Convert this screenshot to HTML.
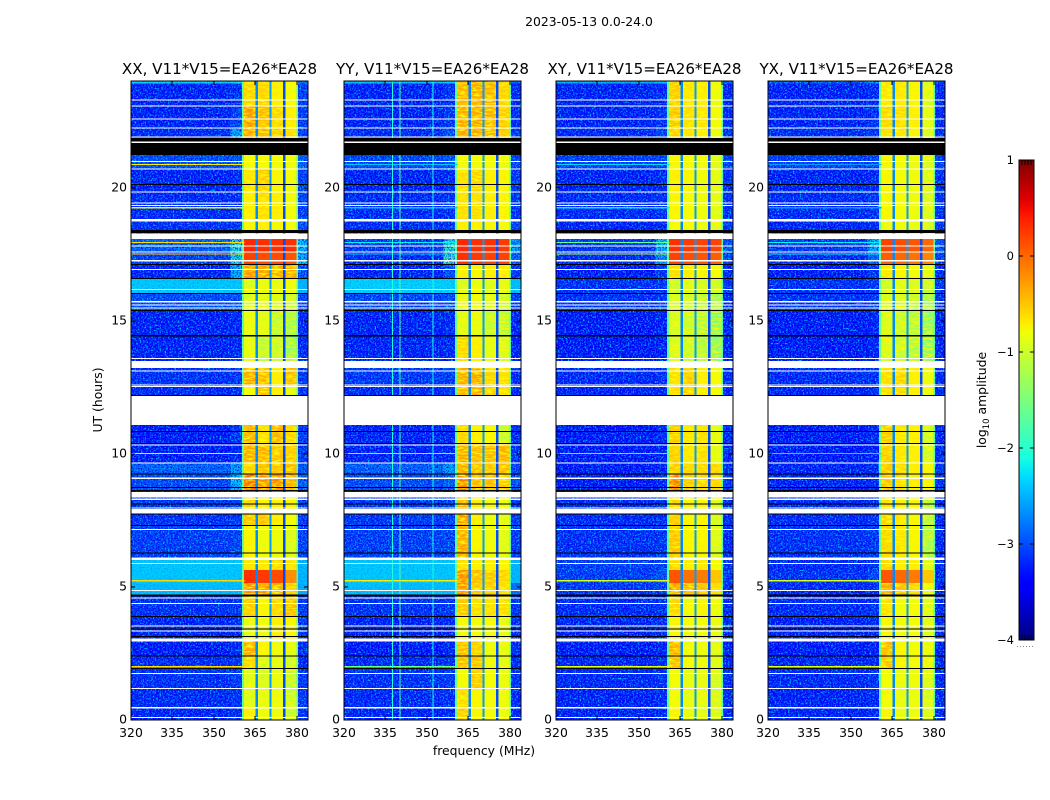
<!DOCTYPE html>
<html>
<head>
<meta charset="utf-8">
<title>2023-05-13 dynamic spectra</title>
<style>
html,body{margin:0;padding:0;background:#fff;}
svg{display:block;}
text{font-family:"DejaVu Sans","Liberation Sans",sans-serif;fill:#000;}
</style>
</head>
<body>
<svg id="chart" xmlns="http://www.w3.org/2000/svg" width="1050" height="800" viewBox="0 0 1050 800">
<defs>
<filter id="speckle" x="0" y="0" width="100%" height="100%">
<feTurbulence type="fractalNoise" baseFrequency="0.6" numOctaves="2" seed="4"/>
<feColorMatrix type="matrix" values="0 0 0 0 0  0 0 0 0 0.6  0 0 0 0 1  3.5 0 0 0 -1.6"/>
</filter>
<filter id="speckle-dark" x="0" y="0" width="100%" height="100%">
<feTurbulence type="fractalNoise" baseFrequency="0.7" numOctaves="2" seed="11"/>
<feColorMatrix type="matrix" values="0 0 0 0 0  0 0 0 0 0  0 0 0 0 0.8  0 3 0 0 -1.3"/>
</filter>
<filter id="speckle-band" x="0" y="0" width="100%" height="100%">
<feTurbulence type="fractalNoise" baseFrequency="0.15 0.6" numOctaves="2" seed="7"/>
<feColorMatrix type="matrix" values="0 0 0 0 1  0 0 0 0 0.95  0 0 0 0 0  3 0 0 0 -1.2"/>
</filter>
<linearGradient id="jet-gradient" x1="0" y1="1" x2="0" y2="0"></linearGradient>
</defs>
<text x="589" y="26" text-anchor="middle" font-size="12.4">2023-05-13 0.0-24.0</text>
<g id="panels"></g>
<text x="0" y="0" text-anchor="middle" font-size="12.4" transform="translate(102,400) rotate(-90)">UT (hours)</text>
<text x="484" y="755" text-anchor="middle" font-size="12.4">frequency (MHz)</text>
<g id="colorbar"></g>
<text x="0" y="0" text-anchor="middle" font-size="12.4" transform="translate(986,400) rotate(-90)">log<tspan font-size="8.5" dy="3">10</tspan><tspan dy="-3"> amplitude</tspan></text>
</svg>
<script>
// Axis categories and ticks
const panelTitles = ["XX, V11*V15=EA26*EA28", "YY, V11*V15=EA26*EA28", "XY, V11*V15=EA26*EA28", "YX, V11*V15=EA26*EA28"];
const freqTicks = [320, 335, 350, 365, 380];
const hourTicks = [0, 5, 10, 15, 20];
const colorTicks = [-4, -3, -2, -1, 0, 1];

// Frequency columns in MHz: background, roll-off, channels A-D, right edge
const freqColumns = [[320, 356], [356, 360.6], [360.6, 365.1], [366, 370], [370.8, 375], [375.8, 380], [380, 384]];
// Band edges and channel gaps in MHz, with their log amplitude
const gapColumns = [[360.2, 360.8], [379.8, 380.4], [365.1, 366], [370, 370.8], [375, 375.8]];
const gapLevels = [-1.7, -1.7, -2.7, -2.6, -3.0];

// Time segment edges in hours (descending)
const hourEdges = [24, 23.9, 23.05, 22.2, 21.22, 20.7, 19.8, 18.8, 18.06, 17.58, 17.1, 16.59, 16.02, 15.38, 14.43, 13.22, 12.58, 11.08, 10.39, 9.66, 9.24, 8.6, 7.73, 7.31, 6.01, 5.63, 5.14, 4.63, 3.88, 3, 2.41, 1.94, 1.19, 0.46, 0];

// log10 amplitude per time segment per frequency column
const xxValues = [
[-2.3,-2.2,-.6,-.6,-.7,-.8,-2.6],[-3.05,-2.95,-.55,-.55,-.7,-.8,-2.85],[-3.05,-2.85,-.25,-.4,-.55,-.7,-2.85],[-3,-2.4,-.3,-.35,-.5,-.6,-2.8],
[-2.75,-2.7,-.8,-.8,-.8,-.85,-2.6],[-3.05,-3,-.65,-.5,-.75,-.85,-2.8],[-3,-2.95,-.7,-.6,-.7,-.85,-2.8],[-2.95,-2.9,-.75,-.7,-.75,-.85,-2.75],
[-2.6,-2,.35,.3,.3,.3,-2.3],[-2.85,-2.1,.2,.15,.15,.1,-2.4],[-3.05,-2.4,-.2,-.25,-.3,-.3,-2.7],[-2.35,-2.35,-1,-.9,-.9,-.85,-2.45],
[-2.75,-2.7,-1,-.95,-1,-1.1,-2.8],[-3.05,-3,-.9,-.95,-1.15,-1.3,-3],[-3.05,-3,-.9,-1.15,-1.1,-1.45,-3],[-2.95,-2.9,-.3,-.4,-.7,-.4,-2.9],
[-3,-2.95,-.8,-.45,-.7,-.9,-2.9],[-3.1,-2.9,-.35,-.6,-.35,-.55,-2.9],[-3.1,-3,-.3,-.35,-.45,-.5,-2.9],[-2.6,-2.5,-.55,-.4,-.45,-.4,-2.7],
[-2.75,-2.3,0,-.2,-.15,-.35,-2.6],[-2.9,-2.8,-.55,-.7,-.7,-.75,-2.8],[-2.95,-2.9,-.45,-.45,-.7,-.8,-2.85],[-2.85,-2.8,-.75,-.85,-.85,-1,-2.8],
[-2.35,-2.35,-.65,-.65,-.55,-.65,-2.45],[-2.35,-2.35,.3,.25,.15,-.2,-2.45],[-2.4,-2.4,-.2,-.2,-.35,-.5,-2.5],[-2.95,-2.9,-.5,-.75,-.55,-.4,-2.9],
[-3.05,-3,-.9,-.85,-.7,-.75,-2.9],[-3.1,-3,-.3,-.75,-.85,-.95,-3],[-3,-2.95,-.55,-.95,-.9,-1.05,-3],[-2.95,-2.9,-.95,-1,-.9,-1.2,-2.9],
[-3,-2.95,-.95,-.9,-.85,-1.1,-2.9],[-3.05,-3,-.7,-.85,-.85,-1.1,-2.9]];
const yyValues = [
[-2.4,-2.3,-.4,-.35,-.4,-.6,-2.7],[-3.05,-2.95,-.35,-.3,-.35,-.55,-3],[-3.05,-2.9,-.3,-.3,-.35,-.5,-3],[-3,-2.7,-.3,-.3,-.35,-.5,-2.9],
[-2.8,-2.7,-.8,-.8,-.8,-.85,-2.8],[-3.05,-3,-.6,-.55,-.7,-.75,-2.9],[-3,-2.95,-.6,-.6,-.7,-.75,-2.9],[-3,-2.9,-.7,-.7,-.75,-.8,-2.8],
[-2.9,-1.9,.35,.3,.3,.25,-2.5],[-3,-1.8,.3,.25,.2,.2,-2.6],[-3.05,-2.7,-.7,-.75,-.7,-.7,-2.9],[-2.3,-2.3,-1,-.85,-1,-.9,-2.4],
[-2.8,-2.75,-.9,-.85,-.95,-1.1,-2.9],[-3.05,-3,-.95,-.9,-1.15,-1.25,-3.05],[-3.05,-3,-.55,-.7,-.9,-1,-3.05],[-2.9,-2.85,-.3,-.25,-.55,-.6,-3],
[-3,-2.95,-.4,-.3,-.5,-.6,-3],[-3.05,-3,-.55,-.7,-.75,-1.1,-3],[-3.05,-3,-.3,-.4,-.4,-.35,-2.95],[-2.6,-2.5,-.3,-.4,-.45,-.4,-2.8],
[-2.75,-2.6,-.1,-.4,-.4,-.5,-2.7],[-2.9,-2.85,-.35,-.7,-.8,-.85,-2.9],[-2.9,-2.85,-.2,-.7,-.85,-.9,-2.9],[-2.85,-2.8,-.3,-.75,-.85,-.95,-2.9],
[-2.35,-2.35,-.6,-.7,-.7,-.75,-2.45],[-2.35,-2.35,-.15,-.4,-.45,-.55,-2.45],[-2.4,-2.4,-.2,-.45,-.5,-.6,-2.6],[-2.95,-2.9,-.45,-.6,-.6,-.6,-2.95],
[-3.05,-3,-.8,-.8,-.8,-.9,-3],[-3.1,-3,-.4,-.5,-.85,-.9,-3],[-3,-2.95,-.4,-.45,-.85,-.9,-3],[-2.95,-2.9,-.8,-.45,-.8,-.9,-2.95],
[-3,-2.95,-.6,-.75,-.8,-.85,-3],[-3.05,-3,-.5,-.75,-.8,-.85,-3]];
const xyValues = [
[-2.5,-2.4,-.5,-.65,-.7,-.85,-2.7],[-3.05,-3,-.5,-.65,-.7,-.85,-3],[-3.05,-2.95,-.45,-.6,-.65,-.8,-3],[-3,-2.8,-.5,-.65,-.7,-.85,-2.95],
[-2.85,-2.8,-.75,-.8,-.85,-.95,-2.85],[-3.05,-3,-.7,-.75,-.85,-.95,-2.95],[-3,-2.95,-.75,-.8,-.85,-.95,-2.95],[-3.05,-3,-.8,-.8,-.85,-.95,-2.9],
[-2.9,-2.3,.3,.25,.2,.2,-2.7],[-3,-2.5,.2,.15,.1,.05,-2.8],[-3.1,-2.9,-.6,-.7,-.75,-.8,-3],[-2.95,-2.9,-1.1,-.95,-1.05,-1.1,-2.9],
[-2.95,-2.9,-1,-1.05,-1.2,-1.4,-3],[-3.1,-3.05,-1,-1.1,-1.25,-1.5,-3.05],[-3.1,-3.05,-1,-1.1,-1.25,-1.5,-3.05],[-3,-2.95,-.6,-.5,-.7,-.8,-3],
[-3.05,-3,-.6,-.5,-.7,-.8,-3],[-3.1,-3,-.5,-.65,-.6,-.9,-3],[-3.1,-3.05,-.5,-.65,-.6,-.9,-3],[-3.1,-3.05,-.5,-.55,-.55,-.55,-2.95],
[-3.1,-3,-.1,-.5,-.55,-.55,-2.9],[-3,-2.95,-.55,-.75,-.75,-1,-3],[-3,-2.95,-.5,-.75,-.75,-1,-3],[-2.95,-2.9,-.45,-.75,-.75,-1,-3],
[-2.85,-2.85,-.55,-.7,-.65,-.8,-2.9],[-2.85,-2.7,.1,-.05,-.1,-.5,-2.9],[-2.9,-2.85,-.25,-.35,-.4,-.6,-2.95],[-3,-2.95,-.55,-.8,-.75,-.85,-3],
[-3.05,-3,-.75,-.8,-.8,-.9,-3],[-3.1,-3.05,-.35,-.8,-.85,-.95,-3.05],[-3.05,-3,-.4,-.8,-.85,-.95,-3],[-3,-2.95,-.8,-.9,-.9,-1.05,-3],
[-3.05,-3,-.8,-.9,-.9,-1.05,-3],[-3.05,-3,-.75,-.9,-.9,-1.05,-3]];
const yxValues = [
[-2.6,-2.5,-.65,-.65,-.75,-.95,-2.8],[-3.05,-3,-.65,-.65,-.75,-.95,-3],[-3.05,-2.95,-.55,-.6,-.7,-.9,-3],[-3,-2.9,-.6,-.65,-.75,-.95,-2.95],
[-2.85,-2.8,-.75,-.8,-.85,-1,-2.85],[-3.05,-3,-.75,-.8,-.85,-1,-2.95],[-3,-2.95,-.75,-.8,-.85,-1,-2.95],[-3.05,-3,-.85,-.85,-.9,-1,-2.9],
[-2.9,-2.4,.2,.15,.1,0,-2.7],[-3,-2.6,.05,0,-.05,-.15,-2.8],[-3.1,-2.9,-.65,-.75,-.8,-.9,-3],[-2.95,-2.9,-1.1,-.95,-1,-1.1,-2.9],
[-2.95,-2.9,-1,-1.05,-1.2,-1.4,-3],[-3.1,-3.05,-1,-1.1,-1.25,-1.45,-3.05],[-3.1,-3.05,-1,-1.1,-1.25,-1.45,-3.05],[-3,-2.95,-.6,-.55,-.7,-.85,-3],
[-3.05,-3,-.6,-.55,-.7,-.85,-3],[-3.1,-3,-.5,-.65,-.7,-1.05,-3],[-3.1,-3.05,-.5,-.65,-.7,-1.05,-3],[-3.05,-3,-.5,-.6,-.7,-.75,-2.95],
[-3.05,-3,-.45,-.6,-.7,-.75,-2.9],[-3,-2.95,-.6,-.7,-.75,-1.2,-3],[-3,-2.95,-.55,-.65,-.75,-1.2,-3],[-2.95,-2.9,-.55,-.65,-.75,-1.3,-3],
[-3,-2.95,-.55,-.7,-.7,-.95,-3],[-2.95,-2.8,.1,0,-.1,-.5,-3],[-3,-2.95,-.3,-.45,-.55,-.8,-3],[-3,-2.95,-.6,-.8,-.8,-.95,-3],
[-3.05,-3,-.75,-.8,-.8,-.95,-3],[-3.1,-3.05,-.4,-.75,-.8,-.85,-3.05],[-3.05,-3,-.45,-.75,-.8,-.85,-3],[-3,-2.95,-.8,-.9,-.85,-1,-3],
[-3.05,-3,-.8,-.9,-.85,-1,-3],[-3.05,-3,-.75,-.9,-.85,-1,-3]];
const panelValues = [xxValues, yyValues, xyValues, yxValues];

// Narrow-band interference rows: hour, log amplitude per panel
const rfiHours = [20.87, 19.24, 17.94, 17.5, 10.01, 5.23, 2];
const rfiXX = [-.7, -.8, -.6, -.5, -1, -.6, -.6];
const rfiYY = [-2.4, -2.4, -2.2, -2.4, -1.6, -.7, -1.6];
const rfiXY = [-2.3, -2.2, -1.6, -1.2, -2, -.9, -.9];
const rfiYX = [-2.6, -2.6, -2.2, -2.2, -2.3, -.9, -.9];
const panelRfi = [rfiXX, rfiYY, rfiXY, rfiYX];

// Narrow vertical spikes in frequency (MHz) with log amplitude for the YY panel
const spikeFreqs = [337.4, 340, 352];
const spikeLevels = [-2.1, -1.8, -2.1];

// No-data (white) and zero-amplitude (black) hour intervals
const blankHours = [[23.26,23.3],[23.04,23.08],[22.56,22.6],[22.21,22.25],[21.87,21.91],[21.68,21.72],[20.95,20.99],[20.67,20.71],[19.81,19.85],[19.39,19.43],[19.3,19.34],[18.72,18.82],[18.21,18.27],[18.06,18.21],[17.79,17.83],[17.56,17.6],[17.23,17.27],[16.9,16.94],[16.15,16.19],[15.69,15.73],[15.56,15.6],[15.46,15.5],[13.56,13.6],[13.22,13.49],[13.09,13.13],[12.56,12.6],[12.5,12.54],[11.08,12.17],[10.31,10.35],[9.64,9.68],[9.06,9.1],[8.36,8.57],[8.27,8.31],[7.95,7.99],[7.76,7.92],[7.14,7.18],[6.01,6.11],[5.86,5.9],[4.84,4.88],[4.56,4.6],[4.36,4.4],[3.51,3.55],[3.33,3.37],[2.95,3.06],[1.73,1.77],[1.17,1.21],[0.44,0.48],[0.07,0.11]];
const zeroHours = [[21.72,21.85],[21.22,21.68],[20.09,20.13],[18.3,18.4],[17.08,17.12],[16.57,16.61],[16,16.04],[15.36,15.4],[14.4,14.46],[12.17,12.2],[10.82,10.86],[10.37,10.41],[9.22,9.26],[8.58,8.63],[8.72,8.76],[8.09,8.13],[7.71,7.75],[7.29,7.33],[6.26,6.3],[4.63,4.71],[3.86,3.9],[3.4,3.44],[3.11,3.15],[2.39,2.43],[1.92,1.96]];

// Layout
const NS = "http://www.w3.org/2000/svg";
const panelLefts = [131, 344, 556, 768];
const panelWidth = 177;
const plotTop = 81, plotBottom = 720;
const freqMin = 320, freqMax = 384, hourMin = 0, hourMax = 24;
const cbLeft = 1019, cbRight = 1034, cbTop = 160, cbBottom = 640, cbMin = -4, cbMax = 1;
// The speckle overlay lightens the mean colour of quiet background; this offset compensates for it.
const quietThreshold = -2.5, speckleBias = -0.25;

function xScale(p, mhz) { return panelLefts[p] + (mhz - freqMin) / (freqMax - freqMin) * panelWidth; }
function yScale(h) { return plotBottom - (h - hourMin) / (hourMax - hourMin) * (plotBottom - plotTop); }
function cbScale(v) { return cbBottom - (v - cbMin) / (cbMax - cbMin) * (cbBottom - cbTop); }

function interp(t, xs, ys) {
  for (let i = 1; i < xs.length; i++) {
    if (t <= xs[i]) return ys[i - 1] + (ys[i] - ys[i - 1]) * (t - xs[i - 1]) / (xs[i] - xs[i - 1]);
  }
  return ys[ys.length - 1];
}
function jet(v) {
  const t = Math.max(0, Math.min(1, (v - cbMin) / (cbMax - cbMin)));
  const r = interp(t, [0, .35, .66, .89, 1], [0, 0, 1, 1, .5]);
  const g = interp(t, [0, .125, .375, .64, .91, 1], [0, 0, 1, 1, 0, 0]);
  const b = interp(t, [0, .11, .34, .65, 1], [.5, 1, 1, 0, 0]);
  return "rgb(" + Math.round(r * 255) + "," + Math.round(g * 255) + "," + Math.round(b * 255) + ")";
}
function displayLevel(v) { return v < quietThreshold ? v + speckleBias : v; }
function make(tag, attrs, parent) {
  const e = document.createElementNS(NS, tag);
  for (const k in attrs) e.setAttribute(k, attrs[k]);
  parent.appendChild(e);
  return e;
}
function bandRect(parent, x0, x1, h0, h1, fill) {
  const yA = yScale(h1), yB = yScale(h0);
  return make("rect", {x: x0, y: yA, width: Math.max(x1 - x0, 1), height: Math.max(yB - yA, 1), fill: fill, "shape-rendering": "crispEdges"}, parent);
}

const panelsGroup = document.getElementById("panels");
const panelKeys = ["xx", "yy", "xy", "yx"];
const quietSpans = [[320, 360.2], [380.4, 384]];

panelTitles.forEach(function (title, p) {
  const g = make("g", {}, panelsGroup);
  
  

  const values = panelValues[p];
  const left = xScale(p, freqMin), right = xScale(p, freqMax);

  // heatmap cells
  for (let r = 0; r < values.length; r++) {
    const hTop = hourEdges[r], hBot = hourEdges[r + 1];
    for (let c = 0; c < freqColumns.length; c++) {
      const cell = bandRect(g, xScale(p, freqColumns[c][0]), xScale(p, freqColumns[c][1]), hBot, hTop, jet(displayLevel(values[r][c])));
      
      
    }
    // texture on each row: strong on quiet rows, faint on bright rows
    const quiet = values[r][0] < quietThreshold;
    quietSpans.forEach(function (span) {
      const lightNoise = bandRect(g, xScale(p, span[0]), xScale(p, span[1]), hBot, hTop, "#000");
      lightNoise.setAttribute("filter", "url(#speckle)");
      lightNoise.setAttribute("opacity", quiet ? 1 : 0.6);
      
      
      const darkNoise = bandRect(g, xScale(p, span[0]), xScale(p, span[1]), hBot, hTop, "#000");
      darkNoise.setAttribute("filter", "url(#speckle-dark)");
      darkNoise.setAttribute("opacity", quiet ? 1 : 0.25);
      
      
    });
    if (values[r][2] < 0.05) {
      const bandNoise = bandRect(g, xScale(p, 360.6), xScale(p, 380), hBot, hTop, "#000");
      bandNoise.setAttribute("filter", "url(#speckle-band)");
      
      
    }
    for (let c = 0; c < gapColumns.length; c++) {
      const gap = bandRect(g, xScale(p, gapColumns[c][0]), xScale(p, gapColumns[c][1]), hBot, hTop, jet(gapLevels[c]));
      
      
    }
  }

  // interference rows
  rfiHours.forEach(function (h, i) {
    const line = bandRect(g, xScale(p, freqMin), xScale(p, 361), h - 0.02, h + 0.02, jet(panelRfi[p][i]));
    
    
  });

  // vertical spikes (YY)
  if (p === 1) {
    spikeFreqs.forEach(function (f, i) {
      const spike = bandRect(g, xScale(p, f), xScale(p, f) + 1, hourMin, hourMax, jet(spikeLevels[i]));
      
      
    });
  }

  // masks
  blankHours.forEach(function (iv) {
    const m = bandRect(g, left, right, iv[0], iv[1], "#fff");
    
    
  });
  zeroHours.forEach(function (iv) {
    const m = bandRect(g, left, right, iv[0], iv[1], "#000");
    
    
  });

  // frame
  const frame = make("rect", {x: left, y: plotTop, width: panelWidth, height: plotBottom - plotTop, fill: "none", stroke: "#000", "stroke-width": 1}, g);
  
  

  // x ticks
  freqTicks.forEach(function (f) {
    const x = Math.round(xScale(p, f));
    const tb = make("line", {x1: x, x2: x, y1: plotBottom, y2: plotBottom - 4, stroke: "#000"}, g);
    
    
    const tt = make("line", {x1: x, x2: x, y1: plotTop, y2: plotTop + 4, stroke: "#000"}, g);
    
    
    const label = make("text", {x: x, y: 737, "text-anchor": "middle", "font-size": 12.4}, g);
    label.textContent = String(f);
    
    
  });

  // y ticks
  hourTicks.forEach(function (h) {
    const y = Math.round(yScale(h));
    const tl = make("line", {x1: left, x2: left + 4, y1: y, y2: y, stroke: "#000"}, g);
    
    
    const tr = make("line", {x1: right, x2: right - 4, y1: y, y2: y, stroke: "#000"}, g);
    
    
    const label = make("text", {x: left - 4, y: y + 3.5, "text-anchor": "end", "font-size": 12.4}, g);
    label.textContent = String(h);
    
    
  });

  // title
  const t = make("text", {x: left + panelWidth / 2, y: 74, "text-anchor": "middle", "font-size": 15.1}, g);
  t.textContent = title;
  
  
});

// colorbar
const grad = document.getElementById("jet-gradient");
for (let i = 0; i <= 50; i++) {
  make("stop", {offset: (i / 50), "stop-color": jet(cbMin + (cbMax - cbMin) * i / 50)}, grad);
}
const cb = document.getElementById("colorbar");
const cbFill = make("rect", {x: cbLeft, y: cbTop, width: cbRight - cbLeft, height: cbBottom - cbTop, fill: "url(#jet-gradient)", stroke: "#000", "stroke-width": 1}, cb);


colorTicks.forEach(function (v) {
  const y = Math.round(cbScale(v));
  const a = make("line", {x1: cbLeft, x2: cbLeft + 4, y1: y, y2: y, stroke: "#000"}, cb);
  
  
  const b = make("line", {x1: cbRight, x2: cbRight - 4, y1: y, y2: y, stroke: "#000"}, cb);
  
  
  const label = make("text", {x: cbLeft - 5, y: y + 4, "text-anchor": "end", "font-size": 11.5}, cb);
  label.textContent = String(v).replace("-", "\u2212");
  
  
});
const minorOffsets = [3, 6, 9, 12];
minorOffsets.forEach(function (dx) {
  const top = make("line", {x1: cbLeft + dx, x2: cbLeft + dx, y1: cbTop, y2: cbTop + 5, stroke: "#000"}, cb);
  
  
  const bottom = make("line", {x1: cbLeft + dx, x2: cbLeft + dx, y1: cbBottom, y2: cbBottom - 5, stroke: "#000"}, cb);
  
  
});
const dots = make("line", {x1: 1017, x2: 1035, y1: 646.5, y2: 646.5, stroke: "#888", "stroke-width": 1, "stroke-dasharray": "1 2"}, cb);


</script>
</body>
</html>
